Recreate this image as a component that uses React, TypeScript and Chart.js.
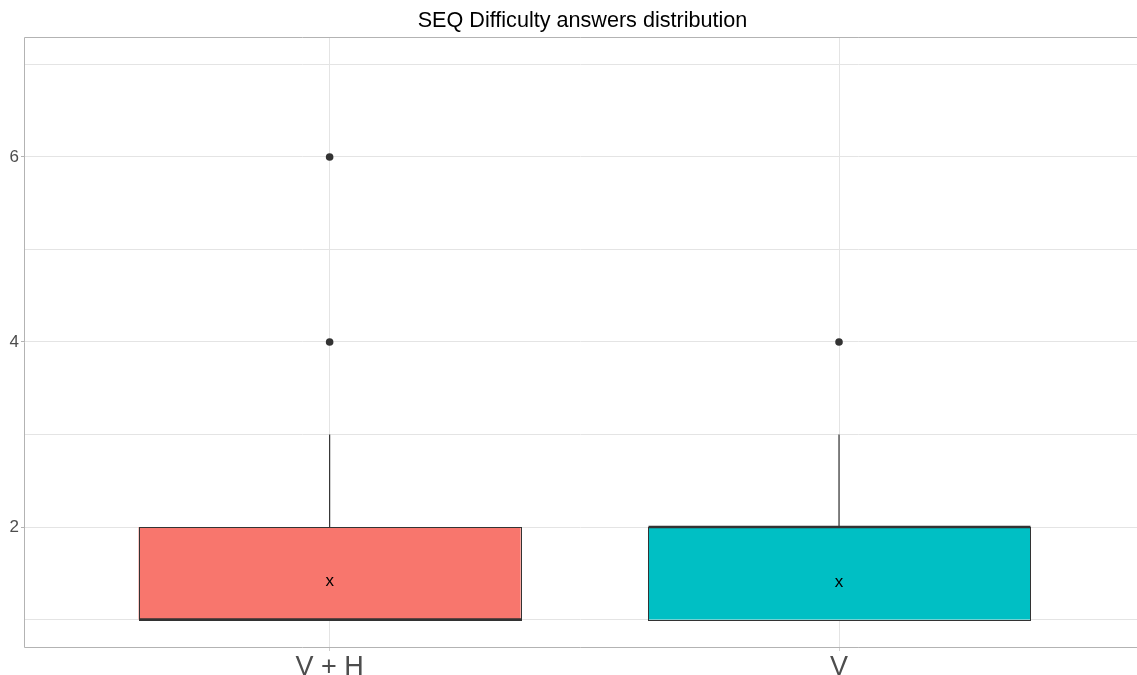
import React, { useEffect, useRef } from 'react';
import { Chart, registerables } from 'chart.js';

Chart.register(...registerables);

// ---- data ----
const categories = ['V + H', 'V'];
const q1 = [1, 1];
const q3 = [2, 2];
const medians = [1, 2];
const whiskerLow = [1, 1];
const whiskerHigh = [3, 3];
const means = [1.43, 1.42];
const outliers = [[4, 6], [4]];
const boxColors = ['#F8766D', '#00BFC4'];
const yGridValues = [1, 2, 3, 4, 5, 6, 7];
const yTickLabels = [2, 4, 6];
const titleText = 'SEQ Difficulty answers distribution';

const FONT = '"Liberation Sans", Arial, sans-serif';
const GRID = '#e4e4e4';
const BORDER = '#b3b3b3';
const DARK = '#333333';

const boxPlugin = {
  id: 'boxExtras',
  afterDatasetsDraw(chart: any) {
    const ctx = chart.ctx;
    const y = chart.scales.y;
    const meta = chart.getDatasetMeta(0);
    const area = chart.chartArea;
    ctx.save();
    meta.data.forEach((el: any, i: number) => {
      const { x, width } = el.getProps(['x', 'width'], true);
      const left = Math.round(x - width / 2) + 0.5;
      const right = Math.round(x + width / 2) + 0.5;
      const top = Math.round(y.getPixelForValue(q3[i])) + 0.5;
      const bottom = Math.round(y.getPixelForValue(q1[i])) + 0.5;
      ctx.strokeStyle = DARK;
      ctx.lineWidth = 1;
      ctx.strokeRect(left, top, right - left, bottom - top);
      const my = y.getPixelForValue(medians[i]);
      ctx.lineWidth = 2.6;
      ctx.beginPath();
      ctx.moveTo(left, my);
      ctx.lineTo(right, my);
      ctx.stroke();
      ctx.fillStyle = '#000';
      ctx.font = `17px ${FONT}`;
      ctx.textAlign = 'center';
      ctx.textBaseline = 'middle';
      ctx.fillText('x', x, y.getPixelForValue(means[i]) + 2);
    });
    // panel border (top, left, bottom)
    ctx.strokeStyle = BORDER;
    ctx.lineWidth = 1;
    ctx.beginPath();
    ctx.moveTo(area.right, area.top + 0.5);
    ctx.lineTo(area.left + 0.5, area.top + 0.5);
    ctx.lineTo(area.left + 0.5, area.bottom + 0.5);
    ctx.lineTo(area.right, area.bottom + 0.5);
    ctx.stroke();
    // title
    ctx.fillStyle = '#000';
    ctx.font = `21.6px ${FONT}`;
    ctx.textAlign = 'center';
    ctx.textBaseline = 'middle';
    ctx.fillText(titleText, (area.left + area.right) / 2 + 2, 21);
    ctx.restore();
  },
};

export default function App() {
  const ref = useRef<HTMLCanvasElement | null>(null);

  useEffect(() => {
    if (!ref.current) return;
    const lowerSets = categories.map((_, i) => ({
      type: 'line' as const,
      data: [
        { x: i + 1, y: whiskerLow[i] },
        { x: i + 1, y: q1[i] },
      ],
      borderColor: DARK,
      borderWidth: 1,
      pointRadius: 0,
      order: 3,
    }));
    const upperSets = categories.map((_, i) => ({
      type: 'line' as const,
      data: [
        { x: i + 1, y: q3[i] },
        { x: i + 1, y: whiskerHigh[i] },
      ],
      borderColor: DARK,
      borderWidth: 1.2,
      pointRadius: 0,
      order: 3,
    }));
    const chart = new Chart(ref.current, {
      type: 'bar',
      data: {
        datasets: [
          {
            type: 'bar',
            data: categories.map((_, i) => ({ x: i + 1, y: [q1[i], q3[i]] })) as any,
            backgroundColor: boxColors,
            borderWidth: 0,
            borderSkipped: false,
            barPercentage: 0.75,
            categoryPercentage: 1,
            order: 1,
          } as any,
          ...lowerSets,
          ...upperSets,
          {
            type: 'scatter',
            data: outliers.flatMap((vals, i) => vals.map((v) => ({ x: i + 1, y: v }))),
            backgroundColor: DARK,
            borderColor: DARK,
            pointRadius: 3.8,
            borderWidth: 0,
            order: 0,
          } as any,
        ],
      },
      options: {
        responsive: false,
        animation: false,
        devicePixelRatio: 1,
        layout: { autoPadding: false, padding: { top: 37, left: 0, right: 0, bottom: 0 } },
        plugins: {
          legend: { display: false },
          tooltip: { enabled: false },
          title: { display: false },
        },
        scales: {
          x: {
            type: 'linear',
            offset: false,
            min: 0.4,
            max: 2.585,
            afterBuildTicks: (scale: any) => {
              scale.ticks = categories.map((_, i) => ({ value: i + 1 }));
            },
            afterFit: (scale: any) => {
              scale.height = 28;
              scale.paddingLeft = 0;
              scale.paddingRight = 0;
            },
            ticks: {
              callback: (v: any) => categories[Number(v) - 1] ?? '',
              font: { size: 27, family: FONT },
              color: '#4d4d4d',
              padding: 0,
              maxRotation: 0,
              autoSkip: false,
            },
            grid: { offset: false, color: GRID, tickLength: 4, tickColor: '#cfcfcf' },
            border: { display: false },
          },
          y: {
            type: 'linear',
            min: 0.703,
            max: 7.297,
            afterBuildTicks: (scale: any) => {
              scale.ticks = yGridValues.map((v) => ({ value: v }));
            },
            afterFit: (scale: any) => {
              scale.width = 24;
            },
            ticks: {
              callback: (v: any) => (yTickLabels.includes(Number(v)) ? String(v) : ''),
              font: { size: 17, family: FONT },
              color: '#4d4d4d',
              padding: 2,
              autoSkip: false,
            },
            grid: {
              color: GRID,
              tickLength: 3,
              tickColor: (c: any) => (yTickLabels.includes(c.tick?.value) ? BORDER : 'rgba(0,0,0,0)'),
            },
            border: { display: false },
          },
        },
      },
      plugins: [boxPlugin],
    });
    return () => chart.destroy();
  }, []);

  return (
    <div style={{ position: 'absolute', left: 0, top: 0, width: 1137, height: 675, background: '#fff' }}>
      <canvas ref={ref} width={1137} height={675} />
    </div>
  );
}
